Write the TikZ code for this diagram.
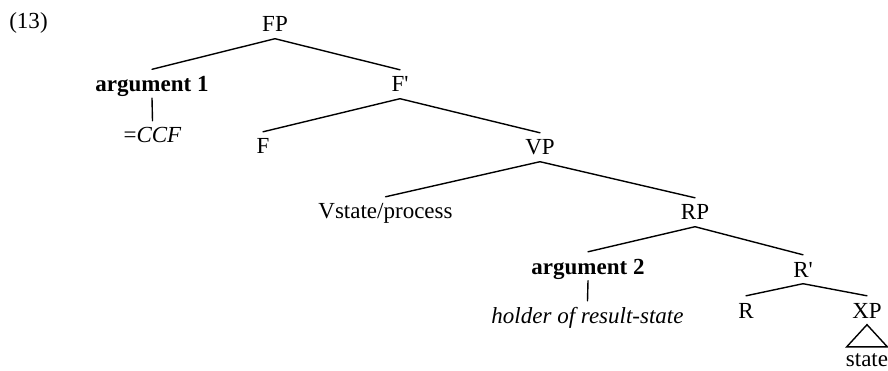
\documentclass[tikz,border=0pt]{standalone}
\usepackage{fontspec}
\setmainfont{Liberation Serif}
\begin{document}
\begin{tikzpicture}[x=1pt,y=-1pt,
  every node/.style={font=\fontsize{23}{27}\selectfont},
  lab/.style={anchor=base, inner xsep=0pt, inner ysep=6.5pt,
              text height=15.5pt, text depth=0pt},
  branch/.style={line width=1.4pt, line cap=round}]
\useasboundingbox (0,0) rectangle (888,371);

% example number
\node[lab] (ex) at (28.5,29) {(13)};

% tree nodes
\node[lab] (fp)   at (275,32)    {FP};
\node[lab] (a1)   at (152,91.5)  {\textbf{argument 1}};
\node[lab] (ccf)  at (152.5,143) {=\textit{CCF}};
\node[lab] (fbar) at (400,92)    {F\textquotesingle};
\node[lab] (f)    at (263,154)   {F};
\node[lab] (vp)   at (540,155)   {VP};
\node[lab] (v)    at (385.5,219) {Vstate/process};
\node[lab] (rp)   at (695,220)   {RP};
\node[lab] (a2)   at (588,274)   {\textbf{argument 2}};
\node[lab] (hold) at (587.5,323) {\textit{holder of result-state}};
\node[lab] (rbar) at (803,277)   {R\textquotesingle};
\node[lab] (r)    at (746,318)   {R};
\node[lab] (xp)   at (867,318)   {XP};
\node[lab] (st)   at (867,366)   {state};

% branches
\draw[branch] (fp.south)   -- (a1.north);
\draw[branch] (fp.south)   -- (fbar.north);
\draw[branch] (a1.south)   -- (ccf.north);
\draw[branch] (fbar.south) -- (f.north);
\draw[branch] (fbar.south) -- (vp.north);
\draw[branch] (vp.south)   -- (v.north);
\draw[branch] (vp.south)   -- (rp.north);
\draw[branch] (rp.south)   -- (a2.north);
\draw[branch] (rp.south)   -- (rbar.north);
\draw[branch] (a2.south)   -- (hold.north);
\draw[branch] (rbar.south) -- (r.north);
\draw[branch] (rbar.south) -- (xp.north);

% roof over the XP constituent
\draw[branch, line join=miter] (xp.south)
  -- ([xshift=1pt,yshift=-3pt]st.north west)
  -- ([xshift=-1pt,yshift=-3pt]st.north east) -- cycle;
\end{tikzpicture}
\end{document}
